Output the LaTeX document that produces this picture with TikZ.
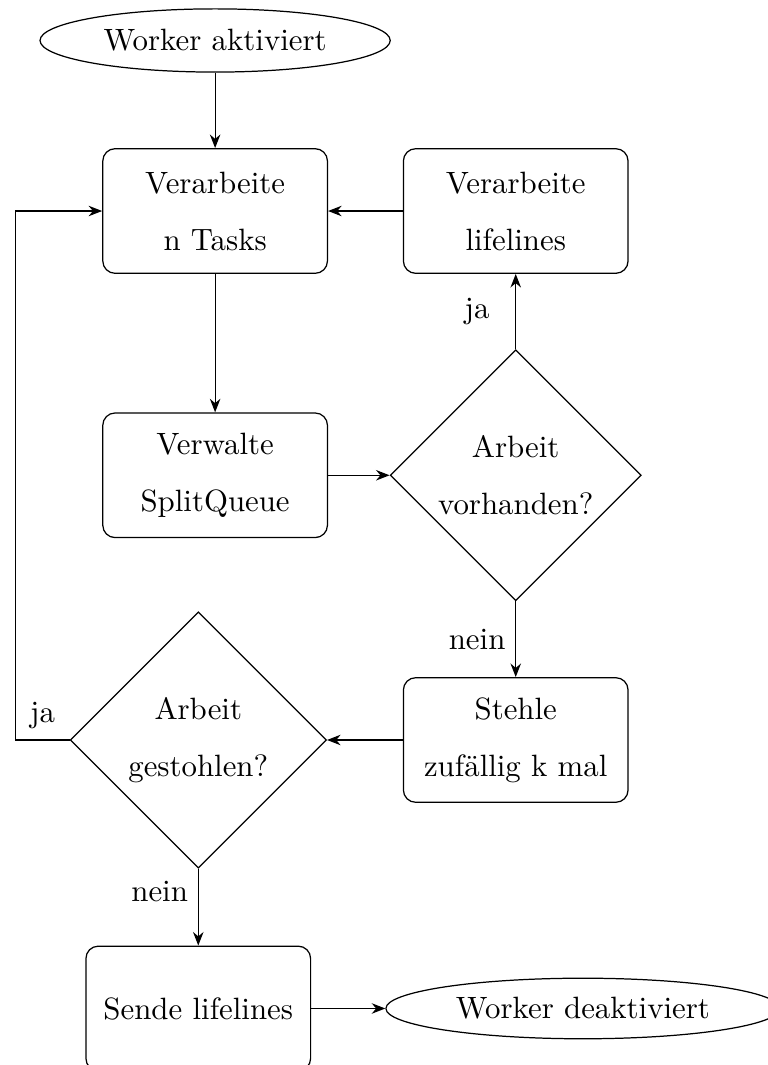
\documentclass[tikz,border=0pt]{standalone}
\usepackage{fontspec}
\usetikzlibrary{shapes,arrows.meta}

\begin{document}
\begin{tikzpicture}[>={Stealth[length=4.4pt,width=3.4pt]},
  process/.style={draw, rounded corners, align=center, minimum width=2.56cm, minimum height=1.42cm},
  decision/.style={draw, diamond, align=center, inner sep=0pt},
  terminal/.style={draw, ellipse, inner sep=0pt}]
\useasboundingbox (0,0) rectangle (8.739,-12.134);

\node[terminal, minimum width=3.99cm, minimum height=0.72cm] (start) at (2.451,-0.461) {Worker aktiviert};
\node[process] (tasks) at (2.451,-2.404) {Verarbeite\\[6.5pt]n Tasks};
\node[process] (lifelines) at (5.876,-2.404) {Verarbeite\\[6.5pt]lifelines};
\node[process] (split) at (2.451,-5.415) {Verwalte\\[6.5pt]SplitQueue};
\node[decision, minimum size=2.86cm] (avail) at (5.876,-5.415) {Arbeit\\[6.5pt]vorhanden?};
\node[process] (steal) at (5.876,-8.431) {Stehle\\[6.5pt]zufällig k mal};
\node[decision, minimum size=2.92cm] (stolen) at (2.259,-8.431) {Arbeit\\[6.5pt]gestohlen?};
\node[process] (send) at (2.259,-11.49) {Sende lifelines};
\node[terminal, minimum width=4.49cm, minimum height=0.69cm] (stop) at (6.642,-11.49) {Worker deaktiviert};
\coordinate (back) at (0.177,0);

\draw [->] (start) -- (tasks);
\draw [->] (lifelines) -- (tasks);
\draw [->] (tasks) -- (split);
\draw [->] (split) -- (avail);
\draw [->] (avail) -- node[xshift=-0.44cm]{ja} (lifelines);
\draw [->] (avail) -- node[xshift=-0.44cm]{nein} (steal);
\draw [->] (steal) -- (stolen);
\draw [->] (stolen.west) -- node[above]{ja} (stolen.west -| back) |- (tasks.west);
\draw [->] (stolen) -- node[pos=0.29, xshift=-0.44cm]{nein} (send);
\draw [->] (send) -- (stop);

\end{tikzpicture}
\end{document}
